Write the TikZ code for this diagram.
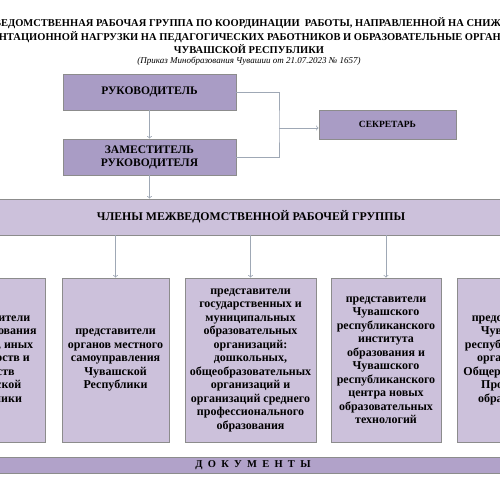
\documentclass[tikz,border=0pt]{standalone}
\usepackage{fontspec}
\setmainfont{Liberation Serif}
\usetikzlibrary{positioning}
\definecolor{headfill}{HTML}{A99CC5}
\definecolor{memberfill}{HTML}{CCC1DB}
\definecolor{docfill}{HTML}{B1A2C9}
\definecolor{boxline}{HTML}{8C8C8C}
\definecolor{linkgray}{HTML}{9FA8B5}

\begin{document}
\begin{tikzpicture}[
  x=1pt, y=-1pt,
  box/.style={draw=boxline, fill=headfill, line width=0.8pt,
              inner sep=2pt, font=\bfseries\fontsize{11.5}{13}\selectfont,
              align=center},
  member/.style={draw=boxline, fill=memberfill, line width=0.8pt,
                 minimum height=164pt, inner sep=1pt,
                 font=\bfseries\fontsize{12}{13.5}\selectfont, align=center},
  arrow/.style={->, color=linkgray, line width=0.8pt}
]
  \useasboundingbox (0,0) rectangle (500,500);
  \clip (0,0) rectangle (500,500);

  % title
  \node[font=\bfseries\fontsize{10.5}{13.5}\selectfont, align=center] (title) at (249,36)
    {МЕЖВЕДОМСТВЕННАЯ РАБОЧАЯ ГРУППА ПО КООРДИНАЦИИ\ \ РАБОТЫ, НАПРАВЛЕННОЙ НА СНИЖЕНИЕ\\
     ДОКУМЕНТАЦИОННОЙ НАГРУЗКИ НА ПЕДАГОГИЧЕСКИХ РАБОТНИКОВ И ОБРАЗОВАТЕЛЬНЫЕ ОРГАНИЗАЦИИ\\
     ЧУВАШСКОЙ РЕСПУБЛИКИ};
  \node[font=\itshape\fontsize{9}{10}\selectfont] (order) at (249,61)
    {(Приказ Минобразования Чувашии от 21.07.2023 № 1657)};

  % head
  \node[box, minimum width=173pt, minimum height=36pt] (head) at (149.5,92) {РУКОВОДИТЕЛЬ};
  \node[box, minimum width=173pt, minimum height=36pt] (deputy) at (149.5,157)
    {ЗАМЕСТИТЕЛЬ\\РУКОВОДИТЕЛЯ};
  \node[box, minimum width=137pt, minimum height=29pt,
        font=\bfseries\fontsize{9.5}{11}\selectfont] (secr) at (387.5,124.5) {СЕКРЕТАРЬ};
  \coordinate (join) at (279,128);

  % members
  \node[box, fill=memberfill, minimum width=560pt, minimum height=36pt,
        font=\bfseries\fontsize{11.8}{13}\selectfont] (members) at (251,217)
    {ЧЛЕНЫ МЕЖВЕДОМСТВЕННОЙ РАБОЧЕЙ ГРУППЫ};

  \node[member, minimum width=110pt] (minedu) at (-10,360)
    {представители\\Минобразования\\Чувашии, иных\\министерств и\\ведомств\\Чувашской\\Республики};
  \node[member, minimum width=107pt] (local) at (115.5,360)
    {представители\\органов местного\\самоуправления\\Чувашской\\Республики};
  \node[member, minimum width=131pt] (schools) at (250.5,360)
    {представители\\государственных и\\муниципальных\\образовательных\\организаций:\\дошкольных,\\
     общеобразовательных\\организаций и\\организаций среднего\\профессионального\\образования};
  \node[member, minimum width=110pt] (inst) at (386,360)
    {представители\\Чувашского\\республиканского\\института\\образования и\\Чувашского\\
     республиканского\\центра новых\\образовательных\\технологий};
  \node[member, minimum width=110pt] (union) at (512,360)
    {представители\\Чувашской\\республиканской\\организации\\Общероссийского\\Профсоюза\\образования};

  % documents
  \node[box, fill=docfill, minimum width=560pt, minimum height=16pt,
        font=\bfseries\fontsize{10.5}{11}\selectfont] (docs) at (253,465)
    {Д\,\,\,О\,\,\,К\,\,\,У\,\,\,М\,\,\,Е\,\,\,Н\,\,\,Т\,\,\,Ы};
  \draw[boxline, line width=1.2pt] (docs.south west) -- (docs.south east);

  \draw[arrow] (head) -- (deputy);
  \draw[arrow] (deputy) -- (deputy.south |- members.north);
  \draw[color=linkgray, line width=0.8pt] (head.east) -| (join) |- (deputy.east);
  \draw[arrow] (join) -- (join -| secr.west);
  \draw[arrow] (local.north |- members.south) -- (local.north);
  \draw[arrow] (schools.north |- members.south) -- (schools.north);
  \draw[arrow] (inst.north |- members.south) -- (inst.north);
\end{tikzpicture}
\end{document}
